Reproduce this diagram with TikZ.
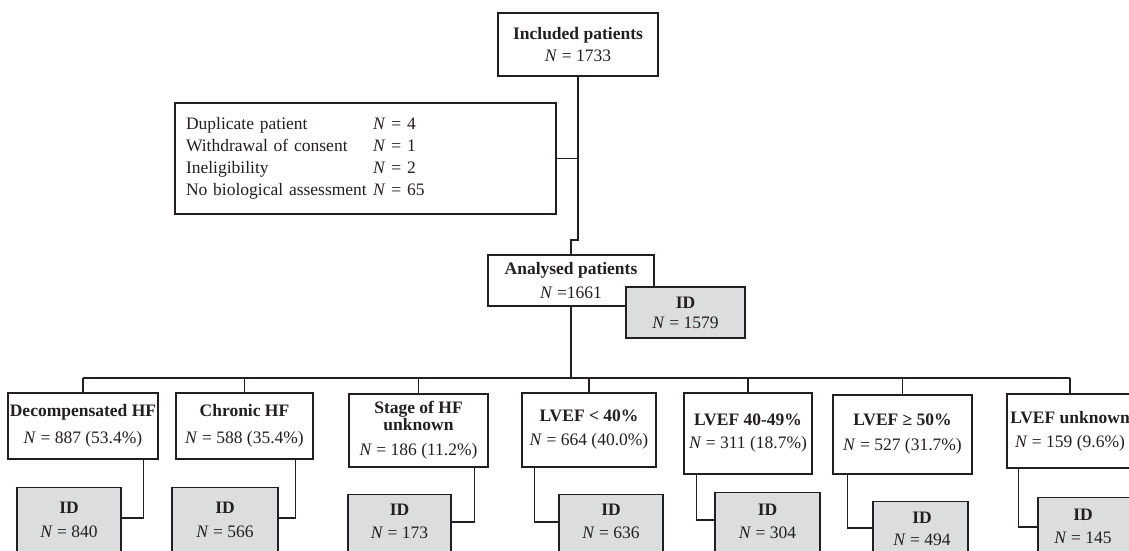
\documentclass[tikz,border=0pt]{standalone}
\usepackage{fontspec}
\setmainfont{Liberation Serif}
\definecolor{idgray}{RGB}{220,221,223}
\definecolor{ink}{RGB}{35,31,32}
\tikzset{
  box/.style={draw=ink, line width=1.3pt, fill=white, inner sep=0pt, align=center,
    font=\fontsize{17.5}{24}\selectfont, text=ink},
  idbox/.style={draw=ink, line width=1.3pt, fill=idgray, inner sep=0pt},
  idtext/.style={align=center, inner sep=0pt, font=\fontsize{17.5}{24}\selectfont, text=ink},
  conn/.style={draw=ink, line width=1.2pt},
  bar/.style={draw=ink, line width=1.3pt},
  trunk/.style={draw=ink, line width=2.3pt}
}
\begin{document}
\begin{tikzpicture}[x=1pt,y=-1pt]
\useasboundingbox (0,0) rectangle (1129,550);
\fill[white] (0,0) rectangle (1129,550);
\clip (0,0) rectangle (1129,550);

% top part
\node[box, minimum width=160pt, minimum height=63pt] (inc) at (578,44.5)
  {\textbf{Included patients}\\[-2pt]\textit{N} = 1733};
\node[box, minimum width=381pt, minimum height=111pt, text width=359pt, inner xsep=11pt,
  align=left, font=\fontsize{17.5}{22}\selectfont] (excl) at (365.5,158.5)
  {\begin{tabular}{@{}p{187pt}@{}l@{}}
   Duplicate patient & \textit{N} = 4\\
   Withdrawal of consent & \textit{N} = 1\\
   Ineligibility & \textit{N} = 2\\
   No biological assessment & \textit{N} = 65
   \end{tabular}};
\node[box, minimum width=166pt, minimum height=51pt] (ana) at (571,280.5)
  {\textbf{Analysed patients}\\\textit{N} =1661};
\node[idbox, minimum width=119pt, minimum height=51pt, align=center,
  font=\fontsize{17.5}{24}\selectfont, text=ink] (anaid) at (685.5,312.5)
  {\textbf{ID}\\[-4pt]\textit{N} = 1579};

\coordinate (stepc) at (578,240);
\draw[conn] (inc.south) -- (stepc) -| (ana.north);
\draw[conn] (excl.east) -- (excl.east -| inc.south);

% bottom boxes
\node[box, minimum width=150pt, minimum height=66pt] (b1) at (83,426)
  {\textbf{Decompensated HF}\\[3pt]\textit{N} = 887 (53.4\%)};
\node[box, minimum width=137pt, minimum height=66pt] (b2) at (244.5,426)
  {\textbf{Chronic HF}\\[3pt]\textit{N} = 588 (35.4\%)};
\node[box, minimum width=139pt, minimum height=73pt] (b3) at (418.5,430.5)
  {\textbf{Stage of HF}\\[-7pt]\textbf{unknown}\\[1pt]\textit{N} = 186 (11.2\%)};
\node[box, minimum width=134pt, minimum height=74pt] (b4) at (589,430)
  {\textbf{LVEF < 40\%}\\\textit{N} = 664 (40.0\%)};
\node[box, minimum width=128pt, minimum height=81pt] (b5) at (748,433.5)
  {\textbf{LVEF 40-49\%}\\[-1pt]\textit{N} = 311 (18.7\%)};
\node[box, minimum width=139pt, minimum height=79pt] (b6) at (902.5,434.5)
  {\textbf{LVEF ≥ 50\%}\\[1pt]\textit{N} = 527 (31.7\%)};
\node[box, minimum width=126pt, minimum height=74pt] (b7) at (1070,431)
  {\textbf{LVEF unknown}\\\textit{N} = 159 (9.6\%)};

% tree connectors
\coordinate (bary) at (0,378);
\draw[bar] (b1.north |- bary) -- (b7.north |- bary);
\draw[trunk] (b2.north |- bary) -- (ana.south |- bary);
\draw[trunk] (b5.north |- bary) -- (b7.north |- bary);
\draw[trunk] (ana.south) -- (ana.south |- bary);
\foreach \b in {b1,b2,b3,b4,b5,b6,b7}
  \draw[conn] (\b.north) -- (\b.north |- bary);

% ID boxes
\node[idbox, minimum width=104pt, minimum height=90pt, anchor=north] (i1) at (69,487) {};
\node[idtext] (i1t) at (69,520) {\textbf{ID}\\\textit{N} = 840};
\node[idbox, minimum width=106pt, minimum height=90pt, anchor=north] (i2) at (225,487) {};
\node[idtext] (i2t) at (225,520) {\textbf{ID}\\\textit{N} = 566};
\node[idbox, minimum width=103pt, minimum height=90pt, anchor=north] (i3) at (399.5,494) {};
\node[idtext] (i3t) at (399.5,521.5) {\textbf{ID}\\[-1pt]\textit{N} = 173};
\node[idbox, minimum width=104pt, minimum height=90pt, anchor=north] (i4) at (611,494) {};
\node[idtext] (i4t) at (611,521.5) {\textbf{ID}\\[-1pt]\textit{N} = 636};
\node[idbox, minimum width=105pt, minimum height=90pt, anchor=north] (i5) at (767.5,492) {};
\node[idtext] (i5t) at (767.5,521.5) {\textbf{ID}\\[-1pt]\textit{N} = 304};
\node[idbox, minimum width=95pt, minimum height=90pt, anchor=north] (i6) at (920.5,501) {};
\node[idtext] (i6t) at (922,529) {\textbf{ID}\\[-2pt]\textit{N} = 494};
\node[idbox, minimum width=100pt, minimum height=90pt, anchor=north] (i7) at (1088,497) {};
\node[idtext] (i7t) at (1083,526.5) {\textbf{ID}\\[-1pt]\textit{N} = 145};

\draw[conn] ([xshift=-15pt]b1.south east) |- ([yshift=-31pt]i1.north east);
\draw[conn] ([xshift=-18pt]b2.south east) |- ([yshift=-31pt]i2.north east);
\draw[conn] ([xshift=-14pt]b3.south east) |- ([yshift=-28pt]i3.north east);
\draw[conn] ([xshift=13pt]b4.south west) |- ([yshift=-28pt]i4.north west);
\draw[conn] ([xshift=13pt]b5.south west) |- ([yshift=-28pt]i5.north west);
\draw[conn] ([xshift=15pt]b6.south west) |- ([yshift=-27pt]i6.north west);
\draw[conn] ([xshift=12pt]b7.south west) |- ([yshift=-30pt]i7.north west);
\end{tikzpicture}
\end{document}
